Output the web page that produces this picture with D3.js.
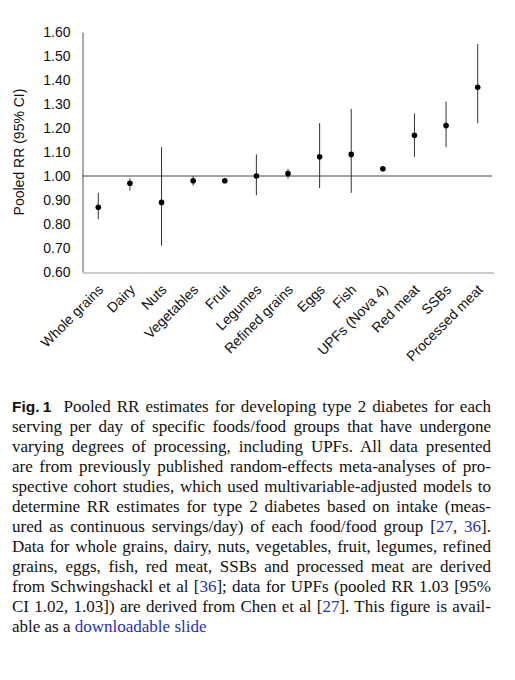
<!DOCTYPE html>
<html><head><meta charset="utf-8">
<script src="https://cdn.jsdelivr.net/npm/d3@7/dist/d3.min.js"></script>
<style>
body{margin:0;background:#fff;width:515px;height:680px;overflow:hidden;}
#cap{position:absolute;left:12px;top:397px;width:479px;font-family:"Liberation Serif","Times New Roman",serif;font-size:17px;line-height:20px;color:#111;}
#cap div{text-align:justify;text-align-last:justify;white-space:nowrap;}
#cap div.last{text-align-last:left;}
#cap .b{font-family:"Liberation Sans",Arial,sans-serif;font-weight:bold;font-size:15.5px;}
#cap a{color:#1f2fbf;text-decoration:none;}
</style></head>
<body>
<svg id="chart" width="515" height="390" style="position:absolute;left:0;top:0"></svg>
<div id="cap"></div>
<script>
const categories = ["Whole grains","Dairy","Nuts","Vegetables","Fruit","Legumes","Refined grains","Eggs","Fish","UPFs (Nova 4)","Red meat","SSBs","Processed meat"];
const rr    = [0.87,0.97,0.89,0.98,0.98,1.00,1.01,1.08,1.09,1.03,1.17,1.21,1.37];
const lower = [0.82,0.94,0.71,0.96,0.97,0.92,0.99,0.95,0.93,1.02,1.08,1.12,1.22];
const upper = [0.93,0.99,1.12,1.00,0.99,1.09,1.03,1.22,1.28,1.03,1.26,1.31,1.55];
const yTicks = [0.6,0.7,0.8,0.9,1.0,1.1,1.2,1.3,1.4,1.5,1.6];
const yTitle = "Pooled RR (95% CI)";

const svg = d3.select("#chart");
const x = d3.scaleBand().domain(categories).range([82.5, 493.5]);
const y = d3.scaleLinear().domain([0.6, 1.6]).range([272, 32]);

// y axis
const yAxis = svg.append("g").attr("transform","translate(82.5,0)")
  .call(d3.axisLeft(y).tickValues(yTicks).tickFormat(d3.format(".2f")).tickSize(0).tickPadding(12));
yAxis.select(".domain").attr("stroke","#555").attr("stroke-width",1);
yAxis.selectAll("text").attr("font-family","'Liberation Sans',Arial,sans-serif").attr("font-size",14).attr("fill","#111");

// x axis
const xAxis = svg.append("g").attr("transform","translate(0,272.5)")
  .call(d3.axisBottom(x).tickSize(0).tickPadding(0));
xAxis.select(".domain").attr("stroke","#999").attr("stroke-width",1.2);
xAxis.selectAll("text")
  .attr("font-family","'Liberation Sans',Arial,sans-serif").attr("font-size",14).attr("fill","#111")
  .attr("text-anchor","end").attr("dy",0)
  .attr("transform","translate(6,18) rotate(-45)");

// reference line
svg.append("line").attr("x1",82.5).attr("x2",492).attr("y1",y(1)).attr("y2",y(1))
  .attr("stroke","#444").attr("stroke-width",1);

// error bars
svg.append("g").selectAll("line").data(categories).join("line")
  .attr("x1",d=>x(d)+x.bandwidth()/2).attr("x2",d=>x(d)+x.bandwidth()/2)
  .attr("y1",(d,i)=>y(lower[i])).attr("y2",(d,i)=>y(upper[i]))
  .attr("stroke","#333").attr("stroke-width",1);

// points
svg.append("g").selectAll("circle").data(categories).join("circle")
  .attr("cx",d=>x(d)+x.bandwidth()/2).attr("cy",(d,i)=>y(rr[i])).attr("r",2.8).attr("fill","#000");

// y title
svg.append("text").attr("transform","translate(24,152) rotate(-90)")
  .attr("text-anchor","middle").attr("font-family","'Liberation Sans',Arial,sans-serif")
  .attr("font-size",14).attr("fill","#111").text(yTitle);

// caption
const lines = [
 '<span class="b">Fig.&#8201;1</span>&nbsp; Pooled RR estimates for developing type 2 diabetes for each',
 'serving per day of specific foods/food groups that have undergone',
 'varying degrees of processing, including UPFs. All data presented',
 'are from previously published random-effects meta-analyses of pro-',
 'spective cohort studies, which used multivariable-adjusted models to',
 'determine RR estimates for type 2 diabetes based on intake (meas-',
 'ured as continuous servings/day) of each food/food group [<a>27</a>, <a>36</a>].',
 'Data for whole grains, dairy, nuts, vegetables, fruit, legumes, refined',
 'grains, eggs, fish, red meat, SSBs and processed meat are derived',
 'from Schwingshackl et al [<a>36</a>]; data for UPFs (pooled RR 1.03 [95%',
 'CI 1.02, 1.03]) are derived from Chen et al [<a>27</a>]. This figure is avail-',
 'able as a <a>downloadable slide</a>'
];
d3.select("#cap").selectAll("div").data(lines).join("div")
  .attr("class",(d,i)=>i===lines.length-1?"last":null).html(d=>d);
</script>
</body></html>
